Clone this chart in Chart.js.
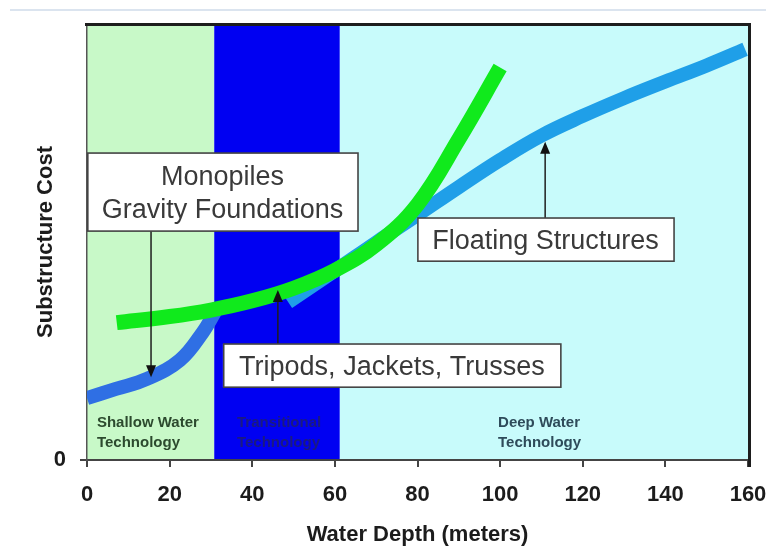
<!DOCTYPE html>
<html>
<head>
<meta charset="utf-8">
<script src="https://cdn.jsdelivr.net/npm/chart.js@4/dist/chart.umd.min.js"></script>
<style>
  html, body { margin: 0; padding: 0; background: #ffffff; }
  #wrap { width: 766px; height: 553px; }
</style>
</head>
<body>
<div id="wrap"><canvas id="chart" width="766" height="553"></canvas></div>
<script>
// Water depth (m) on x, relative substructure cost on y (0 = baseline, 100 = top of frame)
const xTicks = [0, 20, 40, 60, 80, 100, 120, 140, 160];
const yTicks = [0];

// Technology zones along the depth axis
const zoneNames = [['Shallow Water', 'Technology'], ['Transitional', 'Technology'], ['Deep Water', 'Technology']];
const zoneEdges = [0, 30.8, 61.2, 160];

// Monopile / gravity-base cost curve (shallow water)
const monopileDepth = [0, 7, 14.5, 22.5, 28.1, 31];
const monopileCost  = [14.2, 16.3, 18.6, 22.9, 29.4, 34.0];

// Floating structure cost curve
const floatingDepth = [48.7, 60, 70, 80, 90, 100, 110, 120, 130, 140, 150, 159.3];
const floatingCost  = [36.2, 43.4, 49.9, 56.2, 62.6, 68.8, 74.4, 78.9, 83.0, 86.8, 90.5, 94.2];

// Tripod / jacket / truss cost curve
const jacketDepth = [7.2, 20, 30, 40, 50, 60, 70, 80, 90, 100];
const jacketCost  = [31.5, 32.9, 34.4, 36.5, 39.4, 43.5, 49.4, 58.6, 73.6, 90.0];

const FONT = '"Liberation Sans", Arial, Helvetica, sans-serif';

const toPoints = (xs, ys) => xs.map((x, i) => ({ x, y: ys[i] }));

// Callout boxes (in axis units) with an arrow pointing at a curve
const callouts = [
  { lines: ['Monopiles', 'Gravity Foundations'], left: 0, right: 65.6, top: 70.4, bottom: 52.5, arrowX: 15.5, arrowTo: 19.0 },
  { lines: ['Tripods, Jackets, Trusses'], left: 32.9, right: 114.7, top: 26.6, bottom: 16.7, arrowX: 46.2, arrowTo: 39.0 },
  { lines: ['Floating Structures'], left: 79.9, right: 142.1, top: 55.5, bottom: 45.6, arrowX: 110.9, arrowTo: 73.0 }
];

const zoneStyle = {
  fills: ['#c8f9c8', '#0000f2', '#c8fbfb'],
  text: ['#2c4a2e', '#1a1a80', '#2e4b5a'],
  labelX: [2.4, 36.3, 99.5],
  labelY: [8.5, 3.9]
};

const decor = {
  id: 'decor',
  beforeDraw(chart) {
    const { ctx, chartArea: a, scales: { x } } = chart;
    ctx.save();
    // thin header rule
    ctx.strokeStyle = '#dbe4ef';
    ctx.lineWidth = 2;
    ctx.beginPath();
    ctx.moveTo(10, 10);
    ctx.lineTo(chart.width, 10);
    ctx.stroke();
    // zone backgrounds
    for (let i = 0; i < zoneNames.length; i++) {
      const x0 = x.getPixelForValue(zoneEdges[i]);
      const x1 = x.getPixelForValue(zoneEdges[i + 1]);
      ctx.fillStyle = zoneStyle.fills[i];
      ctx.fillRect(x0, a.top, x1 - x0, a.bottom - a.top);
    }
    ctx.restore();
  },
  beforeDatasetsDraw(chart) {
    const { ctx, scales: { x, y } } = chart;
    ctx.save();
    ctx.font = 'bold 15px ' + FONT;
    ctx.textAlign = 'left';
    ctx.textBaseline = 'middle';
    zoneNames.forEach((lines, i) => {
      ctx.fillStyle = zoneStyle.text[i];
      lines.forEach((t, j) => {
        ctx.fillText(t, x.getPixelForValue(zoneStyle.labelX[i]), y.getPixelForValue(zoneStyle.labelY[j]));
      });
    });
    ctx.restore();
  },
  afterDatasetsDraw(chart) {
    const { ctx, scales: { x, y } } = chart;
    ctx.save();
    callouts.forEach(c => {
      const l = x.getPixelForValue(c.left), r = x.getPixelForValue(c.right);
      const t = y.getPixelForValue(c.top), b = y.getPixelForValue(c.bottom);
      // arrow
      const ax = x.getPixelForValue(c.arrowX);
      const tip = y.getPixelForValue(c.arrowTo);
      const start = tip > b ? b : t;
      const dir = tip > start ? 1 : -1;
      ctx.strokeStyle = '#1e1e1e';
      ctx.fillStyle = '#111111';
      ctx.lineWidth = 1.5;
      ctx.beginPath();
      ctx.moveTo(ax, start);
      ctx.lineTo(ax, tip - dir * 10);
      ctx.stroke();
      ctx.beginPath();
      ctx.moveTo(ax, tip);
      ctx.lineTo(ax - 5, tip - dir * 12);
      ctx.lineTo(ax + 5, tip - dir * 12);
      ctx.closePath();
      ctx.fill();
      // box
      ctx.fillStyle = '#ffffff';
      ctx.fillRect(l, t, r - l, b - t);
      ctx.strokeStyle = '#444444';
      ctx.lineWidth = 1.6;
      ctx.strokeRect(l + 0.8, t, r - l - 0.8, b - t);
      // text
      ctx.fillStyle = '#3a3a3a';
      ctx.font = '27px ' + FONT;
      ctx.textAlign = 'center';
      ctx.textBaseline = 'middle';
      const cx = (l + r) / 2, cy = (t + b) / 2;
      const lh = 33;
      c.lines.forEach((s, i) => {
        ctx.fillText(s, cx, cy + (i - (c.lines.length - 1) / 2) * lh + 1.5);
      });
    });
    ctx.restore();
  },
  afterDraw(chart) {
    const { ctx, chartArea: a } = chart;
    ctx.save();
    ctx.strokeStyle = '#1d1d1d';
    ctx.lineWidth = 3;
    ctx.beginPath();
    ctx.moveTo(a.left - 2, a.top + 0.5);
    ctx.lineTo(a.right + 1.5, a.top + 0.5);
    ctx.lineTo(a.right + 1.5, a.bottom + 7);
    ctx.stroke();
    ctx.restore();
  }
};

new Chart(document.getElementById('chart'), {
  type: 'line',
  data: {
    // the first dataset is painted last, so the jacket curve sits on top
    datasets: [
      { data: toPoints(jacketDepth, jacketCost), borderColor: '#10ea1c', borderWidth: 15 },
      { data: toPoints(floatingDepth, floatingCost), borderColor: '#1f9fe8', borderWidth: 14 },
      { data: toPoints(monopileDepth, monopileCost), borderColor: '#2f6fe4', borderWidth: 14 }
    ]
  },
  options: {
    responsive: false,
    animation: false,
    devicePixelRatio: 1,
    layout: { padding: { left: 0, right: 18, top: 24, bottom: 0 } },
    plugins: { legend: { display: false }, tooltip: { enabled: false } },
    elements: {
      point: { radius: 0, hoverRadius: 0 },
      line: { tension: 0.4, borderCapStyle: 'butt', borderJoinStyle: 'round', fill: false }
    },
    scales: {
      x: {
        type: 'linear', min: 0, max: 160,
        afterBuildTicks: s => { s.ticks = xTicks.map(v => ({ value: v })); },
        afterFit: s => { s.height = 93; s.paddingLeft = 0; s.paddingRight = 0; },
        grid: { drawOnChartArea: false, drawTicks: true, tickLength: 7, color: '#444444', lineWidth: 2 },
        border: { display: true, color: '#444444', width: 2 },
        ticks: { font: { family: FONT, size: 22, weight: 'bold' }, color: '#1c1c1c', padding: 15, maxRotation: 0, autoSkip: false },
        title: { display: true, text: 'Water Depth (meters)', font: { family: FONT, size: 22, weight: 'bold' }, color: '#1c1c1c', padding: { top: 4, bottom: 5 } }
      },
      y: {
        type: 'linear', min: 0, max: 100,
        afterBuildTicks: s => { s.ticks = yTicks.map(v => ({ value: v })); },
        afterFit: s => { s.width = 87; s.paddingTop = 0; s.paddingBottom = 0; },
        grid: { drawOnChartArea: false, drawTicks: true, tickLength: 7, color: '#444444', lineWidth: 2 },
        border: { display: true, color: '#555555', width: 1.5 },
        ticks: { font: { family: FONT, size: 22, weight: 'bold' }, color: '#1c1c1c', padding: 14 },
        title: { display: true, text: 'Substructure Cost', font: { family: FONT, size: 22, weight: 'bold' }, color: '#1c1c1c', padding: { top: 33, bottom: 0 } }
      }
    }
  },
  plugins: [decor]
});
</script>
</body>
</html>
